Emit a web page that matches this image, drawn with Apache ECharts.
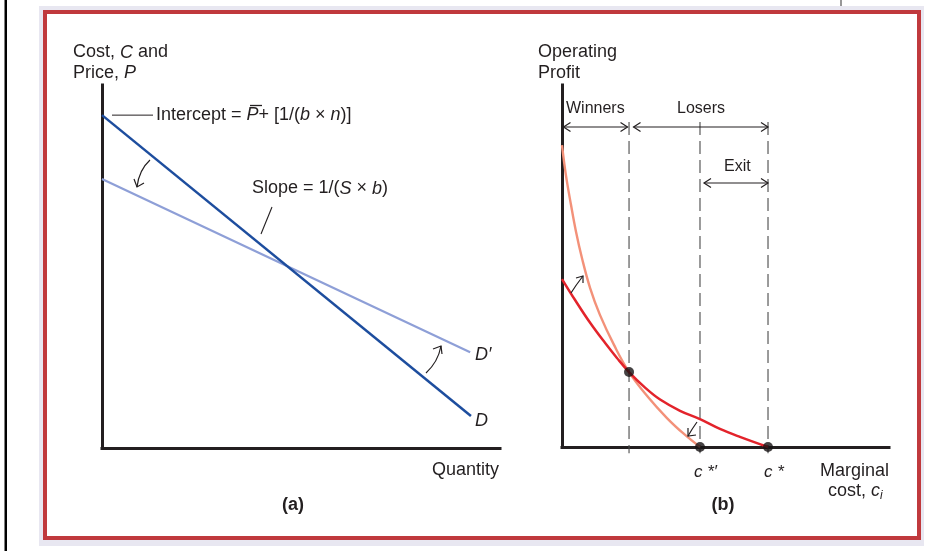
<!DOCTYPE html>
<html>
<head>
<meta charset="utf-8">
<script src="https://cdn.jsdelivr.net/npm/echarts@6/dist/echarts.min.js"></script>
<style>
  html, body { margin: 0; padding: 0; background: #ffffff; }
  #chart { width: 952px; height: 551px; }
</style>
</head>
<body>
<div id="chart"></div>
<script>
// Panel (a): demand lines in (quantity, price) units, 0..100 on both axes
const demandD = [[0, 91.7], [92.7, 8.8]];
const demandDPrime = [[0, 74.1], [92.5, 26.4]];

// Panel (b): operating profit against marginal cost, 0..100 on both axes
const marginalCostBefore = [0, 4.0, 8.6, 13.2, 16.8, 20.5, 25.4, 30.0, 36.1, 42.2, 48.3, 54.4, 63.0];
const profitBefore       = [46.4, 40.6, 34.3, 28.7, 24.6, 20.7, 16.4, 13.1, 10.0, 7.7, 5.0, 2.8, 0];
const marginalCostAfter  = [0, 1.2, 2.75, 4.3, 6.1, 8.6, 11.6, 15.9, 20.5, 26.3, 32.1, 37.3, 42.2];
const profitAfter        = [83.4, 75.1, 66.9, 59.4, 52.2, 43.9, 36.5, 28.2, 20.7, 13.8, 8.0, 3.6, 0];

// Cost thresholds on the marginal-cost axis
const winnersCut = 20.5;   // where the two profit curves cross
const cutoffNew = 42.2;    // c*′
const cutoffOld = 63.0;    // c*
const crossingProfit = 20.7;

// Extent of the dashed guides (in profit units)
const guideTop = 89.8;
const guideBottom = -1.7;

const INK = '#231f20';
const FONT = '"Liberation Sans", Arial, Helvetica, sans-serif';
const DARK_BLUE = '#1d4d9e';
const LIGHT_BLUE = '#8e9fd7';
const RED = '#e3232b';
const SALMON = '#f39179';

const zip = (xs, ys) => xs.map((x, i) => [x, ys[i]]);

const chart = echarts.init(document.getElementById('chart'), null, { renderer: 'canvas' });

function valueAxis(gridIndex) {
  return {
    type: 'value', gridIndex, min: 0, max: 100,
    axisLine: { show: true, onZero: false, lineStyle: { color: INK, width: 3, cap: 'square' } },
    axisTick: { show: false }, axisLabel: { show: false }, splitLine: { show: false }
  };
}

function guide(x) {
  return {
    type: 'line', xAxisIndex: 1, yAxisIndex: 1, clip: false, silent: true,
    symbol: 'none', data: [[x, guideTop], [x, guideBottom]],
    lineStyle: { color: '#4a4a4a', width: 1.1, type: [13, 6] }, z: 1
  };
}

chart.setOption({
  animation: false,
  backgroundColor: '#ffffff',
  grid: [
    { left: 102, top: 85, width: 398, height: 363 },
    { left: 562, top: 85, width: 327, height: 362 }
  ],
  xAxis: [valueAxis(0), valueAxis(1)],
  yAxis: [valueAxis(0), valueAxis(1)],
  series: [
    guide(winnersCut),
    guide(cutoffNew),
    guide(cutoffOld),
    {
      type: 'line', xAxisIndex: 0, yAxisIndex: 0, symbol: 'none',
      data: demandDPrime, lineStyle: { color: LIGHT_BLUE, width: 2.2 }
    },
    {
      type: 'line', xAxisIndex: 0, yAxisIndex: 0, symbol: 'none',
      data: demandD, lineStyle: { color: DARK_BLUE, width: 2.5 }
    },
    {
      type: 'line', xAxisIndex: 1, yAxisIndex: 1, symbol: 'none', clip: false,
      smooth: 0.4,
      data: zip(marginalCostAfter, profitAfter), lineStyle: { color: SALMON, width: 2.4 }
    },
    {
      type: 'line', xAxisIndex: 1, yAxisIndex: 1, symbol: 'none', clip: false,
      smooth: 0.4,
      data: zip(marginalCostBefore, profitBefore), lineStyle: { color: RED, width: 2.5 }
    },
    {
      type: 'scatter', xAxisIndex: 1, yAxisIndex: 1, clip: false, symbolSize: 10,
      itemStyle: { color: '#161314' }, z: 5,
      data: [[winnersCut, crossingProfit], [cutoffNew, 0], [cutoffOld, 0]]
    }
  ]
});

// ---- annotations ----
const px = (grid, pt) => chart.convertToPixel({ gridIndex: grid }, pt);

function text(x, y, str, opts) {
  return {
    type: 'text', x, y, z: 20,
    style: Object.assign({
      text: str, fill: INK, font: '18px ' + FONT,
      align: 'left', verticalAlign: 'middle'
    }, opts || {})
  };
}
function richText(x, y, str, size, align) {
  const base = { fontSize: size, fontFamily: FONT, fill: INK };
  return {
    type: 'text', x, y, z: 20,
    style: {
      text: str, align: align || 'left', verticalAlign: 'middle',
      fontSize: size, fontFamily: FONT, fill: INK,
      rich: {
        n: Object.assign({}, base),
        i: Object.assign({ fontStyle: 'italic' }, base),
        b: Object.assign({ fontWeight: 'bold' }, base)
      }
    }
  };
}
function seg(x1, y1, x2, y2, w, color) {
  return { type: 'line', z: 15, shape: { x1, y1, x2, y2 },
           style: { stroke: color || INK, lineWidth: w || 1.2 } };
}
function head(points) {
  return { type: 'polyline', z: 15, shape: { points },
           style: { stroke: INK, lineWidth: 1.2, fill: null } };
}
function curveArrow(x1, y1, cx, cy, x2, y2, arms) {
  return [
    { type: 'bezierCurve', z: 15, shape: { x1, y1, x2, y2, cpx1: cx, cpy1: cy },
      style: { stroke: INK, lineWidth: 1.2, fill: null } },
    head([arms[0], [x2, y2], arms[1]])
  ];
}
function doubleArrow(xa, xb, y) {
  const h = 7, s = 4.5;
  return [
    seg(xa, y, xb, y),
    head([[xa + h, y - s], [xa, y], [xa + h, y + s]]),
    head([[xb - h, y - s], [xb, y], [xb - h, y + s]])
  ];
}

const axisLeftB = px(1, [0, 0])[0];
const xWin = px(1, [winnersCut, 0])[0];
const xNew = px(1, [cutoffNew, 0])[0];
const xOld = px(1, [cutoffOld, 0])[0];
const xIntercept = px(0, demandD[0]);

const graphics = [
  // page frame
  { type: 'rect', z: -5, shape: { x: 4.5, y: 0, width: 2.5, height: 551 }, style: { fill: '#000000' } },
  { type: 'rect', z: -5, shape: { x: 840.5, y: 0, width: 1, height: 8 }, style: { fill: '#333333' } },
  { type: 'rect', z: -5, shape: { x: 39, y: 6, width: 885, height: 540 }, style: { fill: '#e8e7f1' } },
  { type: 'rect', z: -4, shape: { x: 45, y: 12, width: 874, height: 526 },
    style: { fill: '#ffffff', stroke: '#c0393d', lineWidth: 4 } },

  // panel (a) titles and labels
  richText(73, 52.5, '{n|Cost, }{i|C}{n| and}', 18),
  richText(73, 73, '{n|Price, }{i|P}', 18),
  seg(xIntercept[0] + 10, xIntercept[1], xIntercept[0] + 51, xIntercept[1], 1),
  richText(156, 115, '{n|Intercept = }{i|P}{n|+ [1/(}{i|b}{n| × }{i|n}{n|)]}', 18),
  seg(250, 105.5, 262, 105.5, 1.3),
  richText(252, 188.5, '{n|Slope = 1/(}{i|S}{n| × }{i|b}{n|)}', 18),
  seg(261, 234, 272, 207, 1.1),
  richText(475, 355, '{i|D′}', 18),
  richText(475, 421, '{i|D}', 18),
  text(499, 470, 'Quantity', { align: 'right' }),
  richText(293, 505, '{b|(a)}', 18, 'center'),

  // panel (b) titles and labels
  text(538, 52.5, 'Operating'),
  text(538, 73, 'Profit'),
  text(566, 109, 'Winners', { font: '16px ' + FONT }),
  text(677, 109, 'Losers', { font: '16px ' + FONT }),
  text(724, 166.5, 'Exit', { font: '16px ' + FONT }),
  richText(694, 472, '{i|c *′}', 17),
  richText(764, 472, '{i|c *}', 17),
  text(889, 471.5, 'Marginal', { align: 'right' }),
  richText(880, 491, '{n|cost, }{i|c}', 18, 'right'),
  richText(880, 496, '{i|i}', 12, 'left'),
  richText(723, 505, '{b|(b)}', 18, 'center')
];

graphics.push(
  ...doubleArrow(axisLeftB + 1.5, xWin - 1.5, 127),
  ...doubleArrow(xWin + 4.5, xOld, 127),
  ...doubleArrow(xNew + 4, xOld, 183),
  ...curveArrow(150, 160, 139, 170, 137, 187, [[134, 179], [144, 183]]),
  ...curveArrow(426, 373, 438, 362, 441, 346, [[433, 349], [442, 354]]),
  ...curveArrow(571, 293, 576, 285, 583, 276, [[576, 278], [583, 283]]),
  ...curveArrow(697, 422, 692, 429, 688, 436, [[688, 428], [696, 435]])
);

chart.setOption({ graphic: { elements: graphics } });
</script>
</body>
</html>
